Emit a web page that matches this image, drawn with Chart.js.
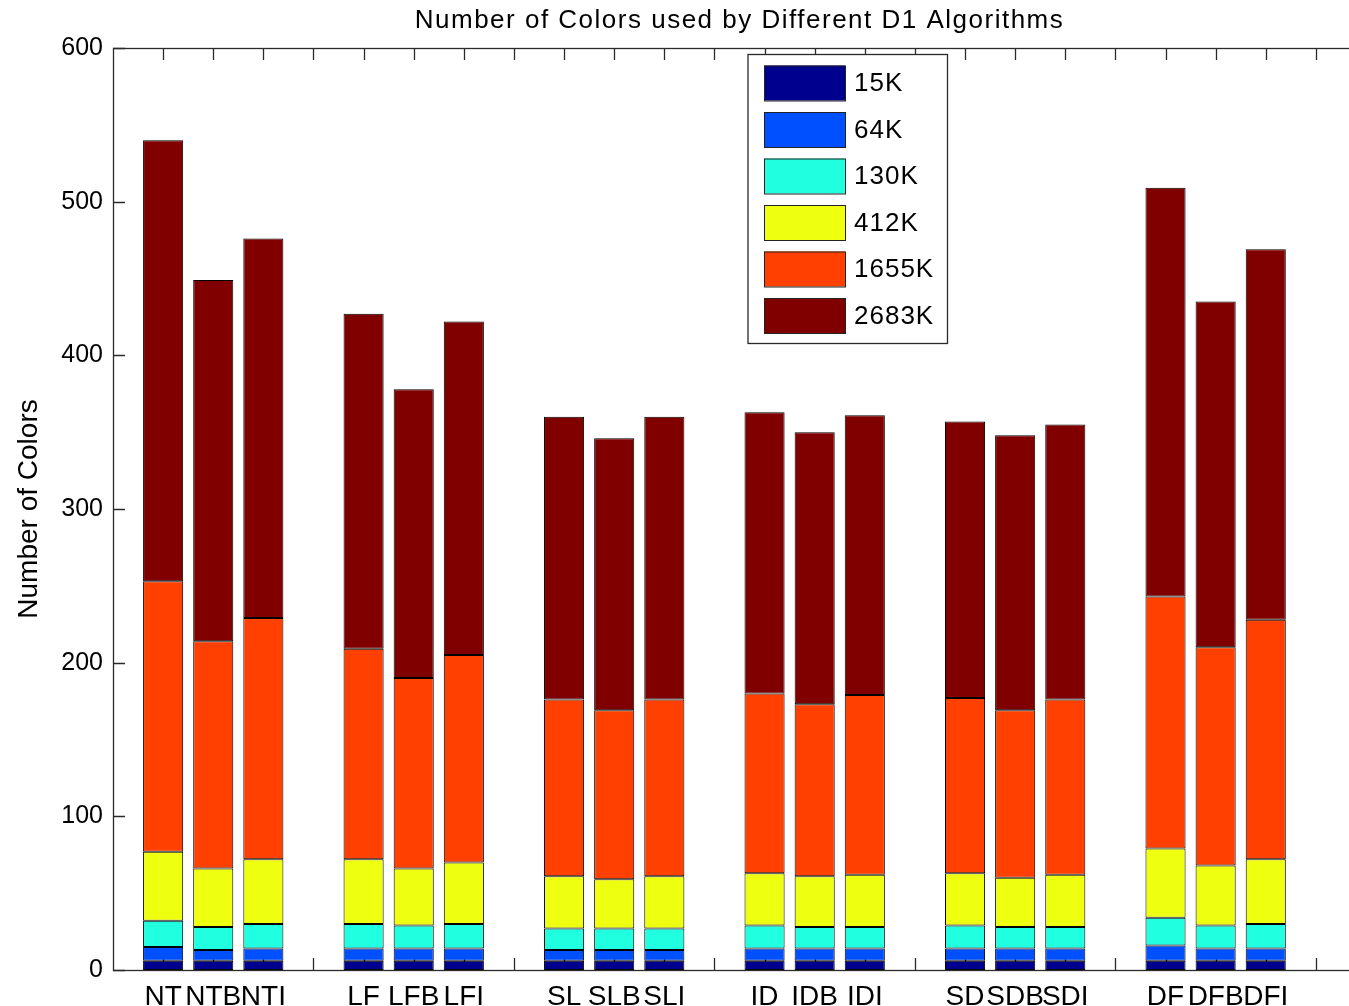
<!DOCTYPE html>
<html>
<head>
<meta charset="utf-8">
<script src="https://cdn.jsdelivr.net/npm/chart.js@4.4.0/dist/chart.umd.min.js"></script>
<style>
  html, body { margin: 0; padding: 0; background: #ffffff; overflow: hidden; }
  #chart { position: absolute; left: 0; top: 0; }
</style>
</head>
<body>
<canvas id="chart" width="1366" height="1006"></canvas>
<script>
// Algorithms, in groups of three (plain, B and I variants)
const algorithms = ['NT', 'NTB', 'NTI', 'LF', 'LFB', 'LFI', 'SL', 'SLB', 'SLI',
                    'ID', 'IDB', 'IDI', 'SD', 'SDB', 'SDI', 'DF', 'DFB', 'DFI'];

// Graph sizes (one stacked segment each)
const graphSizes = ['15K', '64K', '130K', '412K', '1655K', '2683K'];

// Number of colors per graph size, one entry per algorithm
const colors15K   = [6, 6, 6, 6, 6, 6, 6, 6, 6, 6, 6, 6, 6, 6, 6, 6, 6, 6];
const colors64K   = [9, 7, 8, 8, 8, 8, 7, 7, 7, 8, 8, 8, 8, 8, 8, 10, 8, 8];
const colors130K  = [17, 15, 16, 16, 15, 16, 14, 14, 14, 15, 14, 14, 15, 14, 14, 18, 15, 16];
const colors412K  = [45, 38, 42, 42, 37, 40, 34, 32, 34, 34, 33, 34, 34, 32, 34, 45, 39, 42];
const colors1655K = [176, 148, 157, 137, 124, 135, 115, 110, 115, 117, 112, 117, 114, 109, 114, 164, 142, 156];
const colors2683K = [287, 235, 247, 218, 188, 217, 184, 177, 184, 183, 177, 182, 180, 179, 179, 266, 225, 241];

const yTickValues = [0, 100, 200, 300, 400, 500, 600];

const chartTitle = 'Number of Colors used by Different D1 Algorithms';
const yAxisTitle = 'Number of Colors';

const seriesValues = [colors15K, colors64K, colors130K, colors412K, colors1655K, colors2683K];
const seriesColors = ['#00008f', '#0050ff', '#20ffdf', '#efff10', '#ff4000', '#800000'];

// Each group of three bars is followed by one empty slot
const slotOf = i => Math.floor(i / 3) * 4 + (i % 3) + 1;
const slots = algorithms.map((_, i) => slotOf(i));
const slotCount = 24;
const X_MAX = 25;

const FONT = '"Liberation Sans", Arial, Helvetica, sans-serif';
const AXIS_COLOR = '#2a2a2a';
const TICK_LEN = 12;

// Inward tick marks (drawn beneath the bars) and the axes box
const tickMarks = {
  id: 'tickMarks',
  beforeDatasetsDraw(chart) {
    const { ctx, chartArea: a, scales: { x, y } } = chart;
    ctx.save();
    ctx.strokeStyle = AXIS_COLOR;
    ctx.lineWidth = 1.3;
    ctx.beginPath();
    for (let s = 1; s <= slotCount; s++) {
      const px = Math.round(x.getPixelForValue(s)) + 0.5;
      ctx.moveTo(px, a.bottom); ctx.lineTo(px, a.bottom - TICK_LEN);
      ctx.moveTo(px, a.top);    ctx.lineTo(px, a.top + TICK_LEN);
    }
    yTickValues.forEach(v => {
      const py = Math.round(y.getPixelForValue(v)) + 0.5;
      ctx.moveTo(a.left, py); ctx.lineTo(a.left + TICK_LEN, py);
      ctx.moveTo(a.right, py); ctx.lineTo(a.right - TICK_LEN, py);
    });
    ctx.stroke();
    ctx.restore();
  },
  afterDatasetsDraw(chart) {
    const { ctx, chartArea: a } = chart;
    ctx.save();
    ctx.strokeStyle = AXIS_COLOR;
    ctx.lineWidth = 1.3;
    ctx.strokeRect(a.left + 0.5, a.top + 0.5, a.right - a.left, a.bottom - a.top);
    ctx.restore();
  }
};

// Title centred over the axes
const axesTitle = {
  id: 'axesTitle',
  afterDraw(chart) {
    const { ctx, chartArea: a, scales: { x } } = chart;
    ctx.save();
    ctx.fillStyle = '#000';
    ctx.font = '26px ' + FONT;
    ctx.letterSpacing = '1.5px';
    ctx.textAlign = 'center';
    ctx.textBaseline = 'middle';
    ctx.fillText(chartTitle, x.getPixelForValue(X_MAX / 2), a.top - 27);
    ctx.restore();
  }
};

// Boxed legend inside the axes
const boxLegend = {
  id: 'boxLegend',
  afterDraw(chart) {
    const { ctx, chartArea: a } = chart;
    const bx = a.left + 635, by = a.top + 6.5, bw = 199.5, bh = 289;
    ctx.save();
    ctx.fillStyle = '#fff';
    ctx.fillRect(bx, by, bw, bh);
    ctx.strokeStyle = AXIS_COLOR;
    ctx.lineWidth = 1.3;
    ctx.strokeRect(bx, by, bw, bh);
    ctx.font = '26px ' + FONT;
    ctx.letterSpacing = '1px';
    ctx.textBaseline = 'middle';
    ctx.textAlign = 'left';
    chart.data.datasets.forEach((ds, i) => {
      const sy = by + 11 + i * 46.5;
      ctx.fillStyle = ds.backgroundColor;
      ctx.fillRect(bx + 16, sy, 81, 35);
      ctx.strokeStyle = '#222';
      ctx.lineWidth = 1;
      ctx.strokeRect(bx + 16.5, sy + 0.5, 81, 35);
      ctx.fillStyle = '#000';
      ctx.fillText(ds.label, bx + 106, sy + 18.5);
    });
    ctx.restore();
  }
};

const datasets = graphSizes.map((label, k) => ({
  label,
  data: slots.map((s, i) => ({ x: s, y: seriesValues[k][i] })),
  backgroundColor: seriesColors[k],
  borderColor: '#000',
  borderWidth: 1,
  borderSkipped: false,
  barPercentage: 0.8,
  categoryPercentage: 1.0
}));

new Chart(document.getElementById('chart'), {
  type: 'bar',
  data: { datasets },
  plugins: [tickMarks, axesTitle, boxLegend],
  options: {
    responsive: false,
    animation: false,
    layout: { padding: { top: 48, left: 0, right: 0, bottom: 0 } },
    plugins: {
      legend: { display: false },
      title: { display: false },
      tooltip: { enabled: false }
    },
    scales: {
      x: {
        type: 'linear',
        stacked: true,
        offset: false,
        min: 0,
        max: X_MAX,
        grid: { display: false, offset: false },
        border: { display: false },
        afterBuildTicks: scale => { scale.ticks = slots.map(v => ({ value: v })); },
        afterFit: scale => { scale.height = 36; },
        ticks: {
          autoSkip: false,
          maxRotation: 0,
          minRotation: 0,
          padding: 2,
          color: '#000',
          font: { family: FONT, size: 28 },
          callback: v => {
            const i = slots.indexOf(v);
            return i >= 0 ? algorithms[i] : '';
          }
        }
      },
      y: {
        stacked: true,
        min: 0,
        max: 600,
        grid: { display: false, drawTicks: false },
        border: { display: false },
        afterFit: scale => { scale.width = 113; },
        afterBuildTicks: scale => { scale.ticks = yTickValues.map(v => ({ value: v })); },
        ticks: {
          padding: 10,
          color: '#000',
          font: { family: FONT, size: 25 }
        },
        title: {
          display: true,
          text: yAxisTitle,
          color: '#000',
          font: { family: FONT, size: 28 },
          padding: { top: 12, bottom: 0 }
        }
      }
    }
  }
});
</script>
</body>
</html>
